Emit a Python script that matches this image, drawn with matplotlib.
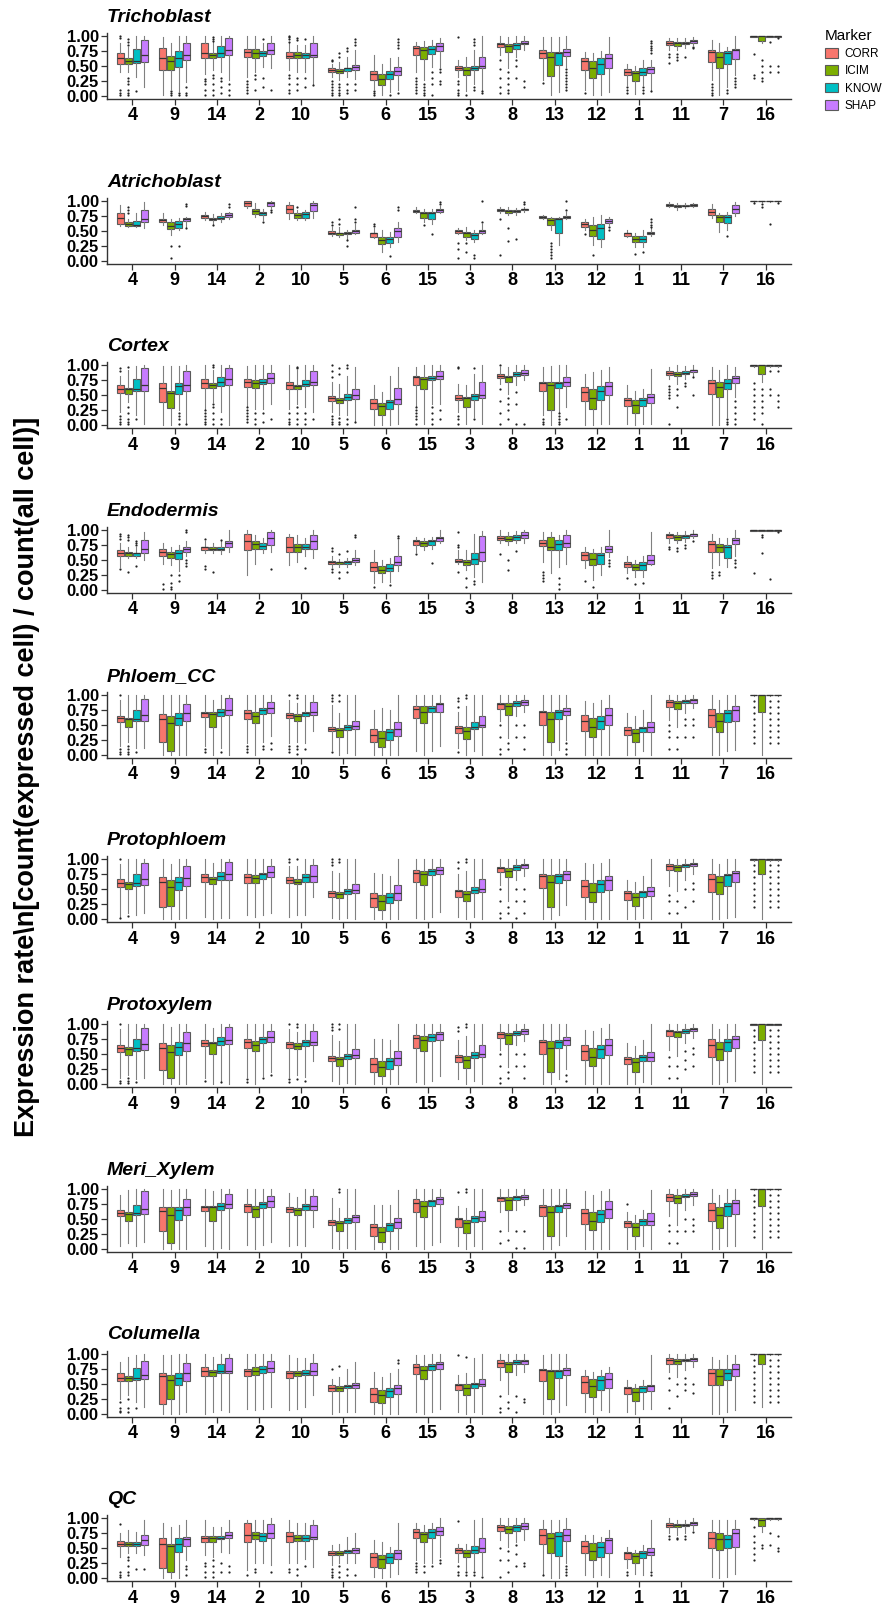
import matplotlib
matplotlib.use("Agg")
import matplotlib.pyplot as plt
import numpy as np
from matplotlib.patches import Patch

plt.rcParams['font.family'] = ['Liberation Sans', 'DejaVu Sans']

GROUPS = ['4', '9', '14', '2', '10', '5', '6', '15', '3', '8', '13', '12', '1', '11', '7', '16']
MARKERS = ['CORR', 'ICIM', 'KNOW', 'SHAP']
COLORS = ['#F8766D', '#7CAE00', '#00BFC4', '#C77CFF']
Y_LABEL = 'Expression rate\\n[count(expressed cell) / count(all cell)]'

# each box: (whisker low, q1, median, q3, whisker high, outliers)
# one row per group in GROUPS order

TRICHO_CORR = [
    (.40, .54, .63, .71, .88, (1.0, .97, .10, .05, .02)), (.01, .43, .64, .80, .99, ()),
    (.37, .64, .72, .88, 1.0, (.28, .25, .20, .10, .02)), (.32, .65, .74, .78, 1.0, (.25, .20, .15, .10, .05)),
    (.43, .63, .67, .74, .88, (1.0, .98, .95, .90, .35, .30, .20, .10, .05)), (.32, .40, .44, .46, .54, (.60, .58, .25, .20, .15, .10, .05, .02)),
    (.12, .27, .36, .42, .68, (.08, .05, .02)), (.40, .69, .80, .83, .90, (.30, .25, .20, .15, .10, .05)),
    (.32, .44, .47, .50, .60, (.98, .25, .20, .10, .05, .02)), (.68, .82, .87, .89, 1.0, (.60, .45, .30, .15, .05)),
    (.26, .64, .72, .77, .99, (.22,)), (.10, .44, .58, .64, .74, (.05,)),
    (.18, .35, .40, .45, .54, (.15, .10, .05)), (.77, .85, .89, .91, .96, (.70, .65, .55)),
    (.26, .56, .74, .77, .94, (.20, .15, .10, .05, .02)), (.98, .99, 1.0, 1.0, 1.0, (.70, .35, .30)),
]
TRICHO_ICIM = [
    (.40, .54, .59, .63, .82, (.95, .90, .85, .30, .25, .20, .10, .05, .02)), (.12, .44, .59, .66, .88, (.08, .05, .02)),
    (.43, .64, .68, .72, .90, (.98, .95, .92, .35, .30, .20, .10, .02)), (.40, .64, .71, .78, 1.0, (.35, .28, .10)),
    (.40, .63, .68, .73, .85, (.97, .93, .30, .20, .10)), (.26, .39, .42, .45, .57, (.72, .65, .20, .15, .10, .05, .02)),
    (.01, .18, .29, .36, .54, ()), (.26, .61, .77, .82, .92, (.20, .15, .10, .05, .02)),
    (.09, .35, .43, .49, .65, (.02,)), (.46, .74, .83, .86, .99, (.40, .30, .20, .10, .05)),
    (.01, .33, .65, .74, .99, ()), (.01, .30, .46, .59, .71, ()),
    (.04, .25, .39, .42, .50, ()), (.77, .84, .88, .90, .96, (.70, .65, .60)),
    (.01, .47, .65, .74, .88, ()), (.88, .92, 1.0, 1.0, 1.0, (.60, .50, .40, .30, .25)),
]
TRICHO_KNOW = [
    (.32, .55, .58, .78, 1.0, (.08,)), (.09, .49, .63, .75, 1.0, (.05, .02)),
    (.40, .65, .72, .84, 1.0, (.30, .25, .15, .05)), (.49, .66, .71, .75, .88, (.95, .30, .15)),
    (.40, .64, .68, .71, .85, (.95, .30, .15)), (.32, .41, .46, .47, .65, (.80, .75, .20, .10, .05)),
    (.07, .28, .36, .42, .63, (.02,)), (.49, .70, .79, .83, .93, (.40, .30, .20, .02)),
    (.20, .43, .46, .50, .77, (.95, .90, .85, .15, .10)), (.65, .79, .85, .89, 1.0, (.60, .50, .30)),
    (.07, .51, .72, .74, .99, ()), (.01, .36, .54, .63, .75, ()),
    (.18, .35, .40, .46, .60, (.15, .10, .05)), (.80, .87, .89, .90, .97, (.65,)),
    (.15, .53, .72, .75, .82, (.10, .05)), (.98, .99, 1.0, 1.0, 1.0, (.90, .50, .40)),
]
TRICHO_SHAP = [
    (.15, .57, .68, .93, 1.0, ()), (.23, .60, .68, .88, 1.0, (.15, .05, .02)),
    (.26, .68, .77, .96, 1.0, (.20, .10, .02)), (.46, .70, .77, .89, 1.0, (.10,)),
    (.20, .65, .69, .88, 1.0, (.18,)), (.29, .43, .49, .51, .77, (.95, .90, .85, .20, .10)),
    (.10, .35, .42, .49, .65, (.95, .90, .85, .80, .05)), (.49, .75, .83, .88, .97, (.45, .40, .25, .20)),
    (.10, .47, .50, .65, 1.0, (.08, .05)), (.77, .86, .89, .92, 1.0, (.25, .15)),
    (.49, .66, .74, .79, 1.0, (.45, .40, .35, .30, .25, .20, .15, .10)), (.07, .46, .63, .70, .99, ()),
    (.10, .39, .45, .49, .60, (.92, .88, .84, .80, .76, .72, .08)), (.85, .89, .92, .93, .99, (.82, .80)),
    (.35, .61, .77, .79, 1.0, (.30, .25, .20, .15)), (.98, .99, 1.0, 1.0, 1.0, (.97, .50, .40)),
]

ATRI_CORR = [
    (.58, .61, .71, .79, .93, ()), (.60, .64, .68, .69, .79, ()),
    (.68, .72, .75, .77, .82, ()), (.88, .91, .97, .99, 1.0, ()),
    (.69, .79, .87, .93, .98, ()), (.42, .44, .47, .49, .57, (.65, .60)),
    (.38, .40, .46, .47, .54, (.62, .58)), (.80, .82, .83, .84, .89, ()),
    (.44, .47, .49, .51, .54, (.30, .20, .05)), (.80, .83, .85, .86, .89, (.70, .10)),
    (.70, .72, .73, .74, .76, ()), (.51, .56, .62, .65, .70, (.45,)),
    (.40, .42, .46, .47, .51, ()), (.90, .92, .93, .94, .98, ()),
    (.72, .77, .82, .86, .94, ()), (.98, .99, 1.0, 1.0, 1.0, (.97,)),
]
ATRI_ICIM = [
    (.56, .58, .62, .64, .70, (.90, .85, .80)), (.43, .53, .58, .65, .70, (.25, .05)),
    (.62, .68, .69, .72, .78, (.60,)), (.73, .78, .83, .87, .97, ()),
    (.68, .71, .76, .80, .84, (.90,)), (.40, .43, .46, .47, .57, (.70, .62)),
    (.15, .28, .34, .39, .51, ()), (.65, .71, .79, .82, .87, (.60,)),
    (.34, .40, .47, .48, .57, (.30, .15)), (.76, .79, .83, .84, .89, (.55, .33)),
    (.51, .59, .68, .71, .73, (.30, .25, .20, .15, .10, .05)), (.26, .41, .51, .60, .73, (.10,)),
    (.23, .32, .37, .42, .46, (.12,)), (.85, .90, .92, .93, .96, ()),
    (.48, .64, .73, .77, .79, ()), (.98, .99, 1.0, 1.0, 1.0, (.95, .90)),
]
ATRI_KNOW = [
    (.56, .58, .59, .67, .80, ()), (.51, .54, .62, .66, .72, (.25,)),
    (.64, .69, .72, .74, .80, ()), (.68, .76, .79, .81, .87, (.65,)),
    (.68, .72, .78, .81, .84, ()), (.37, .44, .47, .48, .52, (.35, .25)),
    (.23, .30, .36, .40, .48, (.08,)), (.62, .69, .79, .81, .87, (.45,)),
    (.32, .37, .43, .46, .52, (.10, .05)), (.77, .81, .83, .84, .88, (.37,)),
    (.26, .46, .69, .71, .73, ()), (.23, .36, .54, .62, .76, ()),
    (.23, .32, .37, .42, .51, (.15,)), (.88, .91, .92, .93, .96, ()),
    (.51, .63, .73, .76, .82, (.42,)), (.98, .99, 1.0, 1.0, 1.0, (.62,)),
]
ATRI_SHAP = [
    (.55, .65, .69, .84, .98, ()), (.57, .66, .69, .71, .73, (.95, .92, .55)),
    (.70, .73, .76, .79, .82, (.95, .90)), (.88, .91, .96, .98, 1.0, (.85, .82)),
    (.71, .83, .93, .96, 1.0, ()), (.44, .47, .49, .51, .62, (.90, .70, .65)),
    (.32, .40, .50, .55, .65, (.90, .85)), (.79, .82, .84, .87, .91, (.98, .95)),
    (.44, .47, .50, .51, .62, (1.0, .65)), (.82, .84, .86, .87, .90, (.98, .94)),
    (.70, .72, .73, .75, .82, (1.0, .85)), (.60, .63, .67, .69, .73, (.57, .52)),
    (.42, .44, .47, .48, .54, (.70, .65, .60, .57)), (.90, .92, .93, .94, .97, ()),
    (.74, .79, .86, .93, .98, ()), (.98, .99, 1.0, 1.0, 1.0, (.97,)),
]

CORTEX_CORR = [
    (.22, .54, .61, .68, .83, (.95, .90, .15, .10, .05, .02)), (0, .39, .63, .71, .99, ()),
    (.28, .63, .71, .78, 1.0, (.25, .20, .15, .10, .05, .02)), (.33, .64, .72, .77, .99, (.30, .25, .20, .15, .10, .05)),
    (.28, .61, .68, .72, 1.0, (.20, .10, .05, .02)), (.22, .40, .46, .49, .72, (1.0, .90, .80, .15, .10, .05, .02)),
    (0, .27, .38, .44, .67, ()), (.31, .67, .81, .83, .97, (.30, .25, .20, .15, .10, .02)),
    (.22, .43, .46, .50, .69, (.98, .95, .15, .10, .02)), (.69, .79, .83, .86, .97, (1.0, .60, .40, .20, .02)),
    (.17, .58, .71, .73, .97, (.10, .05, .02)), (0, .40, .56, .64, .86, ()),
    (.03, .32, .42, .46, .67, ()), (.78, .84, .88, .90, .97, (.65, .60, .55, .50, .45, .02)),
    (0, .53, .71, .76, .97, ()), (.98, .99, 1.0, 1.0, 1.0, (.70, .60, .50, .40, .30, .20, .10)),
]
CORTEX_ICIM = [
    (.39, .53, .60, .62, .92, (.98, .30, .20, .10, .05, .02)), (0, .29, .54, .57, .99, ()),
    (.39, .63, .68, .71, .92, (1.0, .97, .35, .30, .20, .10, .02)), (.28, .63, .71, .75, 1.0, (.20, .10, .02)),
    (.36, .61, .66, .68, .92, (.98, .95, .30, .20, .10, .02)), (.17, .38, .42, .46, .69, (.95, .85, .12, .05, .02)),
    (0, .18, .32, .38, .56, ()), (.03, .61, .78, .81, 1.0, ()),
    (.03, .31, .46, .47, .67, ()), (.53, .72, .81, .83, .97, (.45, .35, .25, .10)),
    (0, .25, .68, .72, .99, ()), (0, .28, .46, .60, .89, ()),
    (0, .21, .34, .42, .58, ()), (.69, .82, .86, .89, 1.0, (.60, .50, .30)),
    (0, .47, .64, .72, .92, ()), (.72, .86, 1.0, 1.0, 1.0, (.60, .50, .40, .30, .20, .02)),
]
CORTEX_KNOW = [
    (.17, .57, .61, .78, .99, (.10,)), (.25, .53, .66, .71, .99, (.20, .15, .10, .02)),
    (.22, .66, .72, .81, 1.0, (.10, .02)), (.28, .69, .73, .78, 1.0, (.20, .05)),
    (.31, .65, .69, .75, 1.0, (.20, .10, .02)), (.17, .42, .47, .52, .83, (1.0, .95, .10, .02)),
    (0, .28, .39, .43, .83, ()), (.36, .75, .79, .83, 1.0, (.30, .20, .10, .02)),
    (.14, .43, .49, .53, .86, (.95, .10)), (.67, .83, .86, .89, 1.0, (.55, .35, .02)),
    (.22, .62, .71, .73, 1.0, (.20, .15, .10, .05, .02)), (.03, .43, .58, .65, .92, ()),
    (.03, .33, .42, .46, .61, ()), (.78, .86, .88, .90, .99, (.70, .65)),
    (.14, .61, .71, .77, 1.0, (.10, .05, .02)), (.98, .99, 1.0, 1.0, 1.0, (.90, .60, .50)),
]
CORTEX_SHAP = [
    (.03, .57, .68, .96, 1.0, ()), (.03, .57, .68, .91, 1.0, (.02,)),
    (0, .67, .77, .96, 1.0, ()), (.36, .71, .79, .88, 1.0, (.10,)),
    (.22, .67, .72, .91, 1.0, (.10,)), (.08, .44, .50, .61, .97, (.05,)),
    (.02, .36, .44, .63, .97, ()), (.36, .77, .83, .90, 1.0, (.25, .10)),
    (.03, .46, .50, .72, 1.0, ()), (.75, .84, .88, .93, 1.0, (.02,)),
    (.31, .66, .73, .81, 1.0, (.10,)), (.03, .50, .66, .72, .97, ()),
    (.03, .38, .47, .53, .94, ()), (.83, .89, .92, .93, 1.0, (.80, .50)),
    (.47, .71, .79, .82, .97, (.40, .30, .20, .10, .02)), (.98, .99, 1.0, 1.0, 1.0, (.90, .50, .40, .30)),
]

ENDO_CORR = [
    (.39, .56, .62, .66, .78, (.94, .90, .85, .35)), (.44, .57, .63, .68, .78, (.10, .02)),
    (.61, .67, .71, .72, .81, (.85, .40, .35)), (.25, .66, .82, .94, 1.0, ()),
    (.42, .64, .71, .88, .94, ()), (.39, .43, .46, .48, .56, (.70, .65, .35, .30)),
    (.11, .32, .39, .46, .67, (.05,)), (.64, .75, .81, .83, .88, (.60,)),
    (.44, .47, .49, .51, .67, (.97, .75, .72, .30)), (.78, .84, .87, .90, 1.0, (.60,)),
    (.47, .73, .79, .83, .97, (.30, .25, .20, .15)), (.36, .50, .58, .64, .72, (.15,)),
    (.28, .39, .44, .47, .56, (.20,)), (.78, .86, .92, .94, .97, (.72, .68)),
    (.36, .64, .77, .81, .94, (.30, .25, .20)), (.98, .99, 1.0, 1.0, 1.0, (.29,)),
]
ENDO_ICIM = [
    (.53, .57, .61, .63, .72, (.92, .88, .83, .30)), (.42, .53, .60, .63, .72, (.25, .12, .05, .02)),
    (.61, .67, .69, .71, .78, (.30,)), (.44, .69, .76, .81, .92, ()),
    (.47, .64, .71, .76, .92, ()), (.38, .43, .46, .47, .52, (.60, .30, .20)),
    (.14, .28, .33, .40, .50, ()), (.67, .73, .78, .81, .86, ()),
    (.33, .42, .47, .50, .67, (.20, .05)), (.75, .82, .85, .90, .96, (.50, .33)),
    (.28, .67, .72, .88, .97, ()), (.17, .41, .51, .61, .69, (.05,)),
    (.22, .33, .39, .43, .50, (.10,)), (.78, .84, .89, .92, .97, (.70, .65)),
    (.42, .64, .72, .77, .86, (.30, .25)), (.98, .99, 1.0, 1.0, 1.0, (.92, .88, .62)),
]
ENDO_KNOW = [
    (.53, .57, .61, .62, .72, (.82, .78, .75, .40)), (.31, .51, .61, .67, .75, (.25, .15)),
    (.60, .67, .68, .71, .81, (.84,)), (.61, .68, .73, .78, .86, ()),
    (.56, .68, .72, .76, .86, (.37,)), (.38, .43, .46, .48, .53, (.65, .30)),
    (.14, .31, .36, .43, .53, (.08,)), (.69, .75, .81, .83, .89, (.45,)),
    (.22, .44, .51, .62, .94, (.15, .10)), (.78, .84, .88, .92, .99, (.65,)),
    (.39, .67, .77, .84, .92, (.20, .10, .02)), (.25, .44, .58, .61, .72, ()),
    (.22, .34, .42, .46, .56, (.12,)), (.80, .86, .90, .92, .98, (.75, .70)),
    (.39, .54, .72, .75, .86, ()), (.98, .99, 1.0, 1.0, 1.0, (.18,)),
]
ENDO_SHAP = [
    (.50, .61, .68, .84, .97, ()), (.56, .64, .68, .72, .81, (1.0, .97, .50, .45, .40)),
    (.64, .72, .78, .81, 1.0, ()), (.64, .75, .86, .97, 1.0, (.35,)),
    (.53, .69, .81, .92, 1.0, ()), (.42, .46, .50, .54, .67, (.92, .88)),
    (.31, .41, .46, .57, .83, (.90, .86)), (.78, .82, .86, .89, 1.0, ()),
    (.14, .49, .64, .90, .99, ()), (.78, .86, .92, .97, 1.0, ()),
    (.44, .72, .79, .92, 1.0, ()), (.55, .63, .68, .73, 1.0, (.50, .45, .40)),
    (.42, .44, .50, .58, .97, ()), (.86, .90, .93, .94, 1.0, (.82,)),
    (.56, .76, .83, .86, 1.0, (.50, .45, .38)), (.98, .99, 1.0, 1.0, 1.0, (.97,)),
]

PHLOEM_CORR = [
    (.14, .54, .61, .65, .92, (1.0, .10, .05, .02)), (0, .22, .59, .68, 1.0, ()),
    (.14, .63, .69, .72, 1.0, (.10, .05)), (.19, .59, .69, .74, 1.0, (.15, .10, .05)),
    (.19, .61, .67, .69, .92, (1.0, .15, .10, .05)), (.08, .39, .43, .47, .83, (1.0, .95, .90, .05)),
    (0, .21, .33, .43, .75, ()), (.06, .61, .76, .82, 1.0, ()),
    (.11, .37, .44, .48, .72, (.95, .90, .80, .05)), (.56, .76, .84, .86, 1.0, (.50, .30, .10, .02)),
    (0, .49, .71, .73, 1.0, ()), (0, .40, .57, .67, .89, ()),
    (0, .33, .42, .46, .69, ()), (.58, .79, .88, .91, 1.0, (.50, .40, .30, .10)),
    (0, .46, .66, .76, 1.0, ()), (.98, .99, 1.0, 1.0, 1.0, (.90, .80, .70, .60, .50, .40, .30, .20)),
]
PHLOEM_ICIM = [
    (.22, .46, .59, .61, 1.0, (.15, .10, .05, .02)), (0, .07, .53, .65, 1.0, ()),
    (0, .46, .68, .71, .92, ()), (0, .53, .65, .72, 1.0, ()),
    (.22, .57, .65, .68, .86, (1.0, .95, .15, .10, .02)), (0, .29, .41, .44, .69, (1.0, .90)),
    (0, .13, .28, .39, .78, ()), (0, .53, .72, .81, 1.0, ()),
    (0, .26, .40, .46, .81, (1.0, .95)), (.28, .66, .82, .86, 1.0, (.20, .10)),
    (0, .21, .60, .71, 1.0, ()), (0, .29, .47, .61, .86, ()),
    (0, .21, .37, .43, .64, ()), (.47, .76, .86, .89, 1.0, (.30, .10)),
    (0, .38, .56, .69, .92, ()), (0, .72, 1.0, 1.0, 1.0, ()),
]
PHLOEM_KNOW = [
    (.11, .56, .60, .74, 1.0, (.05,)), (0, .49, .61, .69, 1.0, ()),
    (.11, .65, .72, .76, 1.0, (.05,)), (.22, .68, .75, .78, 1.0, (.15, .10)),
    (.19, .64, .69, .72, 1.0, (.10,)), (.03, .42, .47, .50, 1.0, ()),
    (0, .25, .38, .43, .75, ()), (.06, .71, .78, .82, 1.0, ()),
    (.06, .43, .47, .54, 1.0, ()), (.64, .82, .86, .89, 1.0, (.50, .30)),
    (.08, .59, .71, .74, 1.0, ()), (0, .43, .57, .65, .92, ()),
    (.06, .38, .44, .47, .75, ()), (.69, .86, .89, .92, 1.0, (.60, .50, .30)),
    (.06, .54, .69, .75, 1.0, ()), (.98, .99, 1.0, 1.0, 1.0, (.90, .80, .70, .60, .50, .40, .30, .20)),
]
PHLOEM_SHAP = [
    (.11, .57, .67, .93, 1.0, ()), (0, .56, .69, .85, 1.0, ()),
    (0, .67, .74, .94, 1.0, ()), (.31, .69, .78, .88, 1.0, (.20, .10)),
    (.39, .66, .71, .88, 1.0, ()), (0, .43, .48, .57, 1.0, ()),
    (0, .31, .43, .54, 1.0, ()), (.14, .72, .84, .87, 1.0, ()),
    (0, .46, .50, .65, 1.0, ()), (.72, .83, .88, .92, 1.0, (.50, .30, .10)),
    (.25, .66, .73, .78, 1.0, (.20, .10, .02)), (0, .49, .67, .78, 1.0, ()),
    (0, .38, .46, .54, 1.0, ()), (.78, .87, .91, .93, 1.0, (.60, .50, .30)),
    (.08, .57, .75, .82, 1.0, ()), (.98, .99, 1.0, 1.0, 1.0, (.90, .80, .70, .60, .50, .40, .30, .20)),
]

PROTOPH_CORR = [
    (.04, .54, .61, .67, .92, (1.0, .02)), (0, .20, .62, .70, 1.0, ()),
    (.04, .62, .70, .76, 1.0, ()), (.07, .61, .70, .76, 1.0, ()),
    (.04, .61, .66, .71, .89, (1.0, .95)), (.02, .38, .44, .48, .80, (1.0, .95, .90)),
    (0, .20, .35, .44, .78, ()), (.02, .62, .78, .83, 1.0, ()),
    (.04, .38, .47, .49, .75, (.95, .85)), (.58, .79, .86, .88, 1.0, (.50, .30, .10, .02)),
    (0, .52, .72, .75, 1.0, ()), (0, .38, .55, .65, .94, ()),
    (0, .33, .44, .47, .66, ()), (.55, .82, .89, .92, 1.0, (.40, .30, .10)),
    (0, .46, .67, .76, 1.0, ()), (.98, .99, 1.0, 1.0, 1.0, (.90, .80, .70, .60, .50, .40, .30, .20)),
]
PROTOPH_ICIM = [
    (.10, .51, .59, .63, 1.0, (.05,)), (0, .22, .54, .66, .92, ()),
    (0, .59, .67, .71, .94, ()), (.04, .61, .69, .74, 1.0, ()),
    (.07, .59, .63, .68, .89, (1.0,)), (0, .35, .42, .46, .78, (1.0, .95)),
    (0, .16, .30, .40, .75, ()), (0, .58, .75, .81, 1.0, ()),
    (0, .30, .42, .47, .80, (1.0, .95)), (.30, .70, .81, .86, 1.0, (.20, .10)),
    (0, .20, .63, .74, 1.0, ()), (0, .29, .46, .61, .92, ()),
    (0, .22, .37, .44, .63, ()), (.47, .80, .88, .90, 1.0, (.30, .10)),
    (0, .43, .62, .72, .92, ()), (0, .75, 1.0, 1.0, 1.0, ()),
]
PROTOPH_KNOW = [
    (.07, .56, .61, .76, 1.0, ()), (0, .49, .63, .71, 1.0, ()),
    (.02, .65, .72, .79, 1.0, ()), (.07, .67, .75, .78, 1.0, ()),
    (.07, .63, .70, .75, 1.0, ()), (.02, .42, .48, .51, 1.0, ()),
    (0, .27, .38, .44, .72, ()), (.04, .74, .80, .84, 1.0, ()),
    (.04, .44, .49, .54, 1.0, ()), (.66, .83, .87, .90, 1.0, (.50, .30, .02)),
    (.07, .61, .72, .75, 1.0, ()), (0, .45, .59, .65, .94, ()),
    (.02, .38, .45, .48, .72, ()), (.66, .87, .90, .92, 1.0, (.50, .20)),
    (.02, .56, .74, .76, 1.0, ()), (.98, .99, 1.0, 1.0, 1.0, (.90, .80, .70, .60, .50, .40, .30, .20)),
]
PROTOPH_SHAP = [
    (.10, .58, .67, .94, 1.0, ()), (.02, .55, .69, .89, 1.0, ()),
    (.02, .66, .75, .96, 1.0, ()), (.10, .71, .79, .89, 1.0, ()),
    (.38, .63, .72, .90, 1.0, ()), (0, .44, .49, .59, 1.0, ()),
    (0, .33, .44, .58, 1.0, ()), (.13, .76, .83, .88, 1.0, ()),
    (0, .46, .51, .68, 1.0, ()), (.72, .85, .90, .93, 1.0, (.50, .30, .10)),
    (.24, .66, .75, .80, 1.0, ()), (0, .49, .65, .73, 1.0, ()),
    (0, .39, .47, .54, 1.0, ()), (.75, .89, .93, .94, 1.0, (.60, .50, .30)),
    (.04, .62, .78, .81, 1.0, ()), (.98, .99, 1.0, 1.0, 1.0, (.90, .80, .70, .60, .50, .40, .30, .20)),
]

PROTOX_CORR = [
    (.10, .54, .60, .66, .92, (1.0, .05, .02)), (0, .24, .60, .68, 1.0, ()),
    (.10, .63, .69, .73, 1.0, (.05,)), (.12, .60, .70, .75, 1.0, (.08, .04)),
    (.12, .61, .67, .70, .92, (1.0, .08, .04)), (.06, .39, .43, .47, .82, (1.0, .95, .90)),
    (0, .21, .34, .43, .76, ()), (.04, .61, .77, .82, 1.0, ()),
    (.08, .37, .45, .49, .73, (.95, .88)), (.57, .77, .84, .87, 1.0, (.50, .30, .10, .02)),
    (0, .50, .70, .73, 1.0, ()), (0, .40, .56, .66, .90, ()),
    (0, .33, .42, .46, .68, ()), (.57, .80, .88, .91, 1.0, (.45, .30, .10)),
    (0, .46, .66, .76, 1.0, ()), (.98, .99, 1.0, 1.0, 1.0, (.90, .80, .70, .60, .50, .40, .30, .20)),
]
PROTOX_ICIM = [
    (.15, .48, .59, .62, 1.0, (.10, .05, .02)), (0, .10, .53, .65, .96, ()),
    (0, .50, .68, .71, .93, ()), (0, .55, .66, .72, 1.0, ()),
    (.15, .58, .64, .68, .87, (1.0, .95, .08)), (0, .31, .42, .45, .72, (1.0, .92)),
    (0, .14, .29, .39, .76, ()), (0, .55, .73, .81, 1.0, ()),
    (0, .27, .41, .47, .80, (1.0, .95)), (.29, .67, .82, .86, 1.0, (.20, .10)),
    (0, .20, .61, .72, 1.0, ()), (0, .30, .46, .61, .88, ()),
    (0, .21, .37, .43, .63, ()), (.47, .78, .87, .89, 1.0, (.30, .10)),
    (0, .40, .58, .70, .92, ()), (0, .74, 1.0, 1.0, 1.0, ()),
]
PROTOX_KNOW = [
    (.08, .56, .60, .75, 1.0, (.04,)), (0, .49, .62, .70, 1.0, ()),
    (.06, .65, .72, .78, 1.0, (.03,)), (.14, .68, .75, .78, 1.0, (.10,)),
    (.12, .64, .70, .74, 1.0, (.06,)), (.02, .42, .47, .51, 1.0, ()),
    (0, .26, .38, .43, .74, ()), (.05, .72, .79, .83, 1.0, ()),
    (.05, .44, .48, .54, 1.0, ()), (.65, .82, .86, .89, 1.0, (.50, .30)),
    (.08, .60, .71, .74, 1.0, ()), (0, .44, .58, .65, .93, ()),
    (.04, .38, .45, .48, .74, ()), (.68, .86, .89, .92, 1.0, (.55, .40, .25)),
    (.04, .55, .71, .75, 1.0, ()), (.98, .99, 1.0, 1.0, 1.0, (.90, .80, .70, .60, .50, .40, .30, .20)),
]
PROTOX_SHAP = [
    (.11, .57, .67, .93, 1.0, ()), (0, .55, .69, .87, 1.0, ()),
    (0, .67, .74, .95, 1.0, ()), (.20, .70, .78, .88, 1.0, (.15,)),
    (.38, .65, .71, .89, 1.0, ()), (0, .44, .49, .58, 1.0, ()),
    (0, .32, .44, .56, 1.0, ()), (.14, .74, .83, .87, 1.0, ()),
    (0, .46, .50, .66, 1.0, ()), (.72, .84, .89, .92, 1.0, (.50, .30, .10)),
    (.25, .66, .74, .79, 1.0, (.15, .05)), (0, .49, .66, .76, 1.0, ()),
    (0, .38, .46, .54, 1.0, ()), (.77, .88, .92, .94, 1.0, (.60, .50, .30)),
    (.06, .60, .76, .81, 1.0, ()), (.98, .99, 1.0, 1.0, 1.0, (.90, .80, .70, .60, .50, .40, .30, .20)),
]

MERI_CORR = [
    (.04, .54, .59, .65, .90, ()), (0, .29, .63, .69, 1.0, ()),
    (.04, .63, .69, .72, 1.0, ()), (.07, .61, .71, .75, 1.0, ()),
    (.04, .61, .67, .69, .93, ()), (.01, .40, .44, .48, .84, ()),
    (0, .22, .36, .41, .73, ()), (.04, .62, .76, .83, 1.0, ()),
    (.04, .37, .49, .51, .71, (.95,)), (.62, .79, .84, .87, 1.0, (.30, .10)),
    (0, .54, .69, .73, 1.0, ()), (0, .41, .59, .67, .96, ()),
    (0, .36, .43, .47, .62, (.75,)), (.54, .80, .87, .91, 1.0, (.40, .30, .10)),
    (0, .47, .65, .76, 1.0, ()), (.98, .99, 1.0, 1.0, 1.0, (.90, .80, .70, .60, .50, .40, .30, .20)),
]
MERI_ICIM = [
    (.09, .47, .58, .61, .98, ()), (0, .09, .56, .69, .98, ()),
    (0, .46, .69, .72, .96, ()), (0, .53, .67, .72, 1.0, ()),
    (.07, .57, .65, .68, .87, ()), (0, .29, .43, .46, .68, (1.0, .95)),
    (0, .12, .28, .37, .73, ()), (0, .53, .71, .80, 1.0, ()),
    (0, .26, .43, .48, .68, (1.0, .95)), (.29, .65, .82, .86, 1.0, (.15,)),
    (0, .21, .62, .71, 1.0, ()), (0, .32, .46, .61, .90, ()),
    (0, .22, .37, .43, .57, ()), (.40, .76, .84, .89, 1.0, (.30, .10)),
    (0, .34, .56, .69, .90, ()), (0, .72, 1.0, 1.0, 1.0, ()),
]
MERI_KNOW = [
    (.04, .56, .59, .73, 1.0, ()), (0, .48, .64, .69, 1.0, ()),
    (.01, .65, .72, .76, 1.0, ()), (.07, .68, .75, .78, 1.0, ()),
    (.04, .64, .71, .75, 1.0, ()), (.01, .43, .48, .51, 1.0, ()),
    (0, .29, .39, .43, .73, ()), (.07, .71, .79, .82, 1.0, ()),
    (.04, .44, .51, .54, 1.0, ()), (.65, .82, .86, .88, 1.0, (.30, .02)),
    (.07, .61, .71, .73, 1.0, ()), (0, .44, .58, .65, .96, ()),
    (.04, .39, .46, .49, .65, ()), (.65, .86, .88, .91, 1.0, (.50, .30)),
    (.04, .55, .72, .76, 1.0, ()), (.98, .99, 1.0, 1.0, 1.0, (.90, .80, .70, .60, .50, .40, .30, .20)),
]
MERI_SHAP = [
    (.11, .58, .66, .96, 1.0, ()), (0, .56, .69, .83, 1.0, ()),
    (0, .68, .74, .91, 1.0, ()), (.12, .69, .79, .88, 1.0, ()),
    (.37, .65, .71, .88, 1.0, ()), (0, .44, .53, .57, 1.0, ()),
    (0, .34, .44, .51, .98, ()), (.12, .75, .83, .86, 1.0, ()),
    (0, .47, .53, .63, 1.0, ()), (.73, .83, .87, .90, 1.0, (.30, .02)),
    (.21, .68, .73, .76, 1.0, ()), (0, .52, .67, .80, 1.0, ()),
    (0, .40, .47, .59, .98, ()), (.73, .88, .92, .94, 1.0, (.50, .40, .30)),
    (.04, .58, .76, .81, 1.0, ()), (.98, .99, 1.0, 1.0, 1.0, (.90, .80, .70, .60, .50, .40, .30, .20)),
]

COLUM_CORR = [
    (.25, .54, .60, .67, .86, (.20, .10, .05, .02)), (0, .16, .63, .68, .97, ()),
    (0, .62, .71, .77, 1.0, ()), (.08, .62, .71, .75, 1.0, ()),
    (.06, .60, .67, .71, .97, ()), (0, .37, .43, .47, .58, (.75,)),
    (0, .19, .33, .42, .69, ()), (.03, .66, .78, .82, .97, ()),
    (.03, .39, .47, .49, .64, (.97,)), (.56, .78, .85, .89, 1.0, (.30, .10, .02)),
    (0, .54, .72, .74, .97, ()), (.03, .35, .53, .63, .72, ()),
    (.03, .32, .42, .44, .56, ()), (.69, .83, .89, .92, .99, (.60, .40, .10)),
    (0, .48, .68, .75, .94, ()), (.98, .99, 1.0, 1.0, 1.0, (.90, .80, .70, .60, .50, .40, .30, .20)),
]
COLUM_ICIM = [
    (.31, .54, .59, .63, .94, (.25, .10, .02)), (0, .25, .56, .65, .97, ()),
    (.03, .63, .69, .72, .94, ()), (.06, .65, .71, .78, 1.0, ()),
    (.08, .62, .67, .71, .92, ()), (.03, .37, .43, .46, .61, (.80,)),
    (0, .17, .31, .39, .61, ()), (0, .58, .73, .79, .97, ()),
    (0, .31, .43, .49, .67, (.95,)), (.33, .69, .83, .86, 1.0, (.20, .10)),
    (0, .25, .71, .72, 1.0, ()), (0, .28, .46, .58, .69, ()),
    (0, .21, .36, .42, .50, ()), (.61, .83, .88, .91, 1.0, (.50, .30)),
    (0, .47, .63, .74, .89, ()), (.11, .82, 1.0, 1.0, 1.0, ()),
]
COLUM_KNOW = [
    (.19, .56, .60, .76, .97, (.10,)), (0, .48, .60, .68, .99, ()),
    (.06, .67, .71, .82, 1.0, ()), (.08, .68, .75, .79, 1.0, ()),
    (.11, .64, .68, .72, .92, ()), (.03, .43, .46, .48, .75, ()),
    (0, .28, .37, .43, .67, ()), (.03, .72, .79, .83, 1.0, ()),
    (.03, .43, .49, .51, .92, ()), (.64, .82, .86, .89, 1.0, (.30, .02)),
    (.03, .60, .71, .73, 1.0, ()), (.06, .40, .56, .63, .72, ()),
    (.08, .36, .43, .46, .56, ()), (.72, .87, .89, .91, 1.0, (.60, .50, .40)),
    (.03, .56, .67, .75, .97, ()), (.98, .99, 1.0, 1.0, 1.0, (.90, .80, .70, .60, .50, .40, .30, .20)),
]
COLUM_SHAP = [
    (.11, .57, .64, .88, 1.0, ()), (.03, .54, .68, .85, 1.0, ()),
    (.03, .67, .71, .93, 1.0, ()), (.11, .69, .76, .88, 1.0, ()),
    (.31, .64, .71, .85, 1.0, ()), (.03, .43, .48, .51, .86, ()),
    (0, .32, .42, .47, .75, (.90, .85)), (.08, .75, .82, .86, 1.0, ()),
    (0, .46, .50, .57, 1.0, ()), (.69, .82, .87, .90, 1.0, (.25, .20)),
    (.14, .64, .72, .76, 1.0, ()), (.03, .43, .58, .67, .78, ()),
    (.08, .37, .46, .48, .97, ()), (.78, .88, .91, .93, 1.0, (.50, .35)),
    (.06, .62, .74, .82, .97, ()), (.98, .99, 1.0, 1.0, 1.0, (.90, .80, .70, .60, .50, .40, .30, .20)),
]

QC_CORR = [
    (.36, .54, .58, .62, .75, (.90, .10, .05, .02)), (0, .17, .58, .67, .92, ()),
    (.39, .61, .68, .71, .97, (.25, .20, .10, .02)), (.14, .60, .72, .92, .97, (.05,)),
    (.25, .60, .71, .78, .97, (.15, .10)), (.22, .39, .43, .46, .56, (.15, .10, .05, .02)),
    (.03, .19, .36, .42, .64, ()), (.31, .67, .77, .82, .92, (.25, .20, .15, .10)),
    (.28, .42, .47, .50, .58, (.95, .20, .10, .05)), (.64, .79, .86, .89, 1.0, (.50, .30, .02)),
    (.08, .58, .72, .82, .97, (.05,)), (.06, .42, .54, .63, .72, ()),
    (.17, .33, .42, .44, .53, (.10, .05)), (.75, .85, .89, .93, 1.0, (.70, .65)),
    (.03, .50, .67, .78, .97, ()), (.98, .99, 1.0, 1.0, 1.0, (.85, .70, .60, .50, .40, .30)),
]
QC_ICIM = [
    (.42, .54, .58, .61, .81, (.35, .30, .20, .10, .05)), (0, .11, .54, .57, .86, ()),
    (.36, .60, .68, .71, .86, (.30, .20, .10, .02)), (.25, .65, .72, .78, .97, (.15, .10)),
    (.25, .63, .68, .72, .92, (.15, .05)), (.25, .39, .43, .46, .58, (.20, .10, .02)),
    (0, .17, .32, .39, .61, ()), (.25, .61, .74, .78, .89, (.20, .10)),
    (.14, .35, .43, .47, .58, (.10, .05)), (.53, .75, .83, .87, 1.0, (.45, .30, .10)),
    (0, .42, .67, .75, .97, ()), (.03, .31, .46, .59, .72, ()),
    (.08, .25, .37, .42, .47, ()), (.72, .85, .89, .91, .97, (.68, .65)),
    (0, .47, .66, .75, .97, ()), (.78, .88, .97, 1.0, 1.0, (.55, .50)),
]
QC_KNOW = [
    (.42, .54, .58, .61, .78, (.15,)), (0, .44, .57, .67, .89, ()),
    (.44, .65, .68, .71, .86, (.25, .10)), (.25, .63, .71, .75, .97, ()),
    (.33, .63, .68, .72, .92, (.20,)), (.25, .43, .46, .47, .69, (.15, .05)),
    (.03, .25, .36, .42, .53, ()), (.25, .67, .77, .82, .92, (.20,)),
    (.14, .42, .48, .54, .97, (.10, .05)), (.61, .79, .85, .89, 1.0, (.55, .40, .20)),
    (0, .37, .71, .78, .97, ()), (.06, .35, .53, .61, .69, ()),
    (.06, .34, .42, .46, .56, ()), (.75, .87, .89, .91, .98, (.70, .65)),
    (.03, .50, .65, .73, .97, ()), (.98, .99, 1.0, 1.0, 1.0, (.75, .55)),
]
QC_SHAP = [
    (.39, .56, .64, .73, .97, (.15,)), (.31, .54, .65, .69, .97, (.20, .15, .05)),
    (.42, .67, .72, .77, .97, (.20, .10)), (.22, .67, .75, .91, 1.0, (.10,)),
    (.19, .65, .69, .89, .97, ()), (.25, .43, .48, .51, .75, (.05,)),
    (.08, .33, .43, .47, .92, ()), (.36, .72, .79, .85, 1.0, (.30, .25)),
    (.06, .44, .50, .68, 1.0, (.02,)), (.64, .82, .87, .93, 1.0, (.25, .20)),
    (.25, .63, .72, .83, 1.0, (.20, .15, .10, .05)), (.03, .43, .64, .67, .81, ()),
    (.14, .39, .44, .50, .97, (.10, .05)), (.81, .89, .92, .94, 1.0, (.78,)),
    (.08, .52, .76, .82, .97, ()), (.98, .99, 1.0, 1.0, 1.0, (.70, .50, .45)),
]

PANELS = [
    ('Trichoblast', [TRICHO_CORR, TRICHO_ICIM, TRICHO_KNOW, TRICHO_SHAP]),
    ('Atrichoblast', [ATRI_CORR, ATRI_ICIM, ATRI_KNOW, ATRI_SHAP]),
    ('Cortex', [CORTEX_CORR, CORTEX_ICIM, CORTEX_KNOW, CORTEX_SHAP]),
    ('Endodermis', [ENDO_CORR, ENDO_ICIM, ENDO_KNOW, ENDO_SHAP]),
    ('Phloem_CC', [PHLOEM_CORR, PHLOEM_ICIM, PHLOEM_KNOW, PHLOEM_SHAP]),
    ('Protophloem', [PROTOPH_CORR, PROTOPH_ICIM, PROTOPH_KNOW, PROTOPH_SHAP]),
    ('Protoxylem', [PROTOX_CORR, PROTOX_ICIM, PROTOX_KNOW, PROTOX_SHAP]),
    ('Meri_Xylem', [MERI_CORR, MERI_ICIM, MERI_KNOW, MERI_SHAP]),
    ('Columella', [COLUM_CORR, COLUM_ICIM, COLUM_KNOW, COLUM_SHAP]),
    ('QC', [QC_CORR, QC_ICIM, QC_KNOW, QC_SHAP]),
]


def to_stats(rows):
    out = []
    for lo, q1, med, q3, hi, fl in rows:
        out.append(dict(whislo=lo, q1=q1, med=med, q3=q3, whishi=hi, fliers=list(fl)))
    return out


W, H = 885, 1609
fig = plt.figure(figsize=(W / 100, H / 100), dpi=100)

left_px, right_px = 107, 791
dodge = 0.75 / 4
x = np.arange(1, len(GROUPS) + 1)

for k, (name, series) in enumerate(PANELS):
    top_px = 33 + 164.7 * k
    ax = fig.add_axes([left_px / W, 1 - (top_px + 66) / H, (right_px - left_px) / W, 66 / H])
    for m, rows in enumerate(series):
        pos = x + (m - 1.5) * dodge
        ax.bxp(to_stats(rows), positions=pos, widths=0.165, patch_artist=True,
               showcaps=False,
               boxprops=dict(facecolor=COLORS[m], edgecolor='#5a5a5a', linewidth=0.8),
               medianprops=dict(color='#333333', linewidth=0.9),
               whiskerprops=dict(color='#808080', linewidth=0.8),
               flierprops=dict(marker='o', markersize=1.6, markerfacecolor='#222222',
                               markeredgecolor='none'))
    ax.set_xlim(0.4, 16.6)
    ax.set_ylim(-0.05, 1.05)
    ax.set_yticks([0, 0.25, 0.5, 0.75, 1.0])
    ax.set_yticklabels(['0.00', '0.25', '0.50', '0.75', '1.00'], fontsize=12, fontweight='bold')
    ax.set_xticks(x)
    ax.set_xticklabels(GROUPS, fontsize=13, fontweight='bold')
    for s in ['top', 'right']:
        ax.spines[s].set_visible(False)
    for s in ['left', 'bottom']:
        ax.spines[s].set_color('#333333')
        ax.spines[s].set_linewidth(1.0)
    ax.tick_params(length=4, width=0.9, color='#333333', pad=2)
    ax.set_title(name, loc='left', fontsize=14, fontweight='bold', fontstyle='italic', pad=8)

fig.text(0.031, 0.517, Y_LABEL, rotation=90, ha='center', va='center',
         fontsize=19.5, fontweight='bold')

handles = [Patch(facecolor=c, edgecolor='#5a5a5a', linewidth=0.8) for c in COLORS]
leg = fig.legend(handles, MARKERS, loc='upper left', bbox_to_anchor=(814 / W, 1 - 18 / H),
                 frameon=False, title='Marker', fontsize=8.5, title_fontsize=11,
                 handlelength=1.1, handleheight=0.9, labelspacing=0.45, handletextpad=0.6,
                 alignment='left')

fig.savefig('out.png', dpi=100)
